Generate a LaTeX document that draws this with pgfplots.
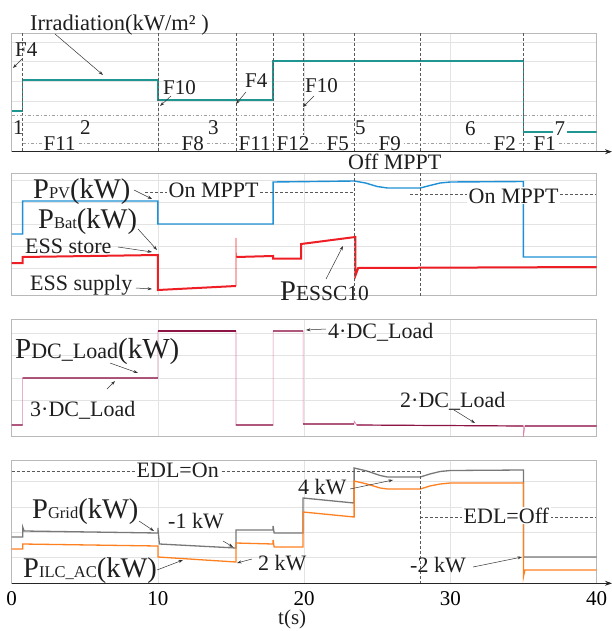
\documentclass[border=0pt]{standalone}
\usepackage{fontspec}
\setmainfont{Liberation Serif}
\usepackage{pgfplots}
\pgfplotsset{compat=1.18}
\usetikzlibrary{arrows.meta}
\newcommand\fz[1]{\fontsize{#1}{#1}\selectfont}
\definecolor{cirr}{RGB}{32,150,146}
\definecolor{cpv}{RGB}{30,144,214}
\definecolor{cbat}{RGB}{238,30,36}
\definecolor{cdc}{RGB}{140,20,70}
\definecolor{cdcl}{RGB}{222,130,170}
\definecolor{cgrid}{RGB}{120,120,120}
\definecolor{cilc}{RGB}{255,128,32}
\pgfplotsset{panel/.style={
  scale only axis, width=584.8pt, xmin=0, xmax=40,
  axis line style={draw=gray!55, line width=0.9pt},
  major tick length=0pt,
  xtick={10,20,30}, xticklabels={}, yticklabels={},
  grid=major, major grid style={gray!22, line width=0.6pt},
  unbounded coords=jump,
}}
\begin{document}
\begin{tikzpicture}
\useasboundingbox (0pt,0pt) rectangle (612pt,-631pt);
% Panel 1: irradiation
\begin{axis}[panel, at={(11.7pt,-33.3pt)}, anchor=north west, height=118.4pt,
  ymin=-151.7, ymax=-33.3, ytick={-42,-61,-81,-101,-122}]
\addplot[cirr, line width=1.6pt] coordinates {(0,-111)(0.75,-111)(0.75,-80)(10,-80)(10,-100)(17.88,-100)(17.88,-61)(35,-61)(35,-132)(40,-132)};
\end{axis}
% Panel 2: PV and battery
\begin{axis}[panel, at={(11.7pt,-173.3pt)}, anchor=north west, height=122.4pt,
  ymin=-295.7, ymax=-173.3, ytick={-180,-202,-224,-246,-268}]
\addplot[cpv, line width=1.4pt] coordinates {(0,-234)(0.75,-234)(0.75,-201)(10,-201)(10,-224)(17.88,-224)(17.88,-182)(23.42,-181)(24.2,-183)(25,-186.5)(25.7,-188)(27.95,-188)(28.6,-185.5)(29.3,-183)(30,-182)(35,-181.5)(35,-257)(40,-257)};
\addplot[cbat, line width=0.6pt] coordinates {(15.34,-286)(15.34,-238)(15.36,-257)};
\addplot[cbat, line width=2pt] coordinates {(0,-263)(0.75,-263)(0.75,-257)(10,-255)(10,-290)(15.34,-286)(15.34,nan)(15.36,-257)(17.88,-256)(17.88,-258.5)(19.8,-258.5)(19.8,-244)(23.5,-237)(23.5,-276)(23.7,-268)(40,-267)};
\end{axis}
% Panel 3: DC load
\begin{axis}[panel, at={(11.7pt,-319.3pt)}, anchor=north west, height=116.7pt,
  ymin=-436, ymax=-319.3, ytick={-333,-355,-378,-400}]
\addplot[cdcl, line width=0.6pt] coordinates {(0,-425)(0.75,-425)(0.75,-378)(10,-378)(10,-331)(15.34,-331)(15.34,-425)(17.88,-425)(17.88,-331)(19.93,-331)(19.93,-424)(23.42,-424)(23.42,-421)(23.6,-425)(35,-426)(35,-437)(35.1,-426)(40,-426)};
\addplot[cdc, line width=1.2pt] coordinates {(0,-425)(0.75,-425)(0.75,nan)(0.75,-378)(10,-378)(10,nan)(15.34,-425)(17.88,-425)(17.88,nan)(17.88,-331)(19.93,-331)(19.93,nan)(19.93,-424)(23.42,-424)(23.42,nan)(23.6,-425)(35,-426)(35,nan)(35.1,-426)(40,-426)};
\addplot[cdc, line width=2.4pt] coordinates {(10,-331)(15.34,-331)};
\end{axis}
% Panel 4: grid and ILC
\begin{axis}[panel, at={(11.7pt,-460.7pt)}, anchor=north west, height=122.6pt,
  ymin=-583.3, ymax=-460.7, ytick={-481,-507,-532,-557},
  xtick={0,10,20,30,40}, xticklabels={0,10,20,30,40},
  xticklabel style={font=\fz{21}, inner sep=0pt, anchor=north, yshift=-8.5pt}]
\addplot[cgrid, line width=1.3pt] coordinates {(0,-537)(0.75,-537)(0.75,-527)(0.85,-531)(10,-533)(10,-528)(10.1,-544)(15.34,-548)(15.34,-530)(17.88,-530)(17.88,-526)(17.95,-533)(19.93,-533)(19.93,-498)(23.42,-503)(23.42,-468)(24.3,-471)(25.2,-475.5)(25.7,-477)(27.95,-477)(28.6,-474)(29.3,-471.5)(30,-470.5)(35,-470)(35,-557)(40,-557)};
\addplot[cilc, line width=1.3pt] coordinates {(0,-549)(0.75,-549)(0.75,-544)(10,-546)(10,-557)(15.34,-562)(15.34,-543)(17.88,-544)(17.88,-540)(17.95,-547)(19.93,-547)(19.93,-512)(23.42,-517)(23.42,-481)(24.3,-484)(25.2,-488)(25.7,-489)(27.95,-489)(28.6,-486)(29.3,-484)(30,-483)(35,-483)(35,-577)(35.1,-570)(40,-570)};
\end{axis}
% Annotations (1pt = 1px of reference, y downward)
\begin{scope}[x=1pt, y=-1pt, every node/.style={inner sep=0pt, text=black!88},
  arr/.style={-{Stealth[length=4.5pt,width=3pt]}, line width=0.5pt, black!80},
  evd/.style={dash pattern=on 3pt off 2pt, gray!70!black, line width=0.5pt},
  dimd/.style={dash pattern=on 3pt off 2pt on 1pt off 2pt, gray!75, line width=0.6pt},
  lbl/.style={fill=white, inner xsep=1.5pt, inner ysep=1pt}]
% axes with arrows
\draw[line width=1pt, black!85, -{Stealth[length=7pt,width=5pt]}] (11.7,151.7) -- (612,151.7);
\draw[line width=1pt, black!85, -{Stealth[length=7pt,width=5pt]}] (11.7,583.3) -- (612,583.3);
% panel 1 event lines
\foreach \t in {0.75,10,15.34,17.88,19.93,23.42,27.95,35}
  \draw[evd] ({11.7+14.62*\t},33.3) -- ({11.7+14.62*\t},151.7);
\draw[dimd] (11.7,115) -- (596.5,115);
\draw[dimd] (22.7,143) -- (596.5,143);
% panel 2 lines
\foreach \t in {23.42,27.95}
  \draw[evd] ({11.7+14.62*\t},173.3) -- ({11.7+14.62*\t},295.7);
\draw[evd] (145,192) -- (354,192);
\draw[evd] (410,194) -- (596,194);
% panel 4 lines
\draw[evd] (11.7,471) -- (420.3,471);
\draw[evd] (420.3,517) -- (596,517);
\draw[evd] (420.3,471) -- (420.3,583.3);
% panel 1 texts
\node[anchor=base west] at (30,31) {\fz{22.5}Irradiation(kW/m² )};
\draw[arr] (55,34) -- (103,75);
\node[anchor=base west] at (15,57) {\fz{21}F4};
\draw[arr] (22,59) -- (13,68);
\node[anchor=base west] at (163,95) {\fz{21}F10};
\draw[arr] (171,96) -- (160,106);
\node[anchor=base west] at (245,88) {\fz{21}F4};
\draw[arr] (246,92) -- (236,104);
\node[anchor=base west] at (305,93) {\fz{21}F10};
\draw[arr] (314,96) -- (303,107);
\node[anchor=base west] at (13,135) {\fz{21}1};
\node[anchor=base west] at (80,135) {\fz{21}2};
\node[anchor=base west] at (208,135) {\fz{21}3};
\node[anchor=base west] at (355,135) {\fz{21}5};
\node[anchor=base west] at (465,136) {\fz{21}6};
\node[anchor=base west, lbl] at (553,136) {\fz{21}7};
\foreach \xx/\tt in {42/F11,180/F8,237/F11,275/F12,325/F5,377/F9,492/F2,532/F1}
  \node[anchor=base west, lbl] at (\xx,150) {\fz{21}\tt};
\node[anchor=base west] at (348,170) {\fz{22}Off MPPT};
% panel 2 texts
\node[anchor=base west] at (33,198) {\fz{28.5}P\fz{16.5}PV\fz{28.5}(kW)};
\draw[arr] (134,190) -- (152,199);
\node[anchor=base west, lbl] at (167,197) {\fz{22}On MPPT};
\node[anchor=base west, lbl] at (467,203) {\fz{22}On MPPT};
\node[anchor=base west] at (38,228) {\fz{28.5}P\fz{16.5}Bat\fz{28.5}(kW)};
\draw[arr] (138,229) -- (157,250);
\node[anchor=base west] at (25,253) {\fz{22}ESS store};
\draw[arr] (118,247) -- (152,252);
\node[anchor=base west] at (30,290) {\fz{22}ESS supply};
\draw[arr] (136,288) -- (152,289);
\node[anchor=base west] at (280,300) {\fz{28.5}P\fz{21.5}ESSC10};
\draw[arr] (326,279) -- (343,246);
% panel 3 texts
\node[anchor=base west] at (15,358) {\fz{29}P\fz{22}DC\_Load\fz{29}(kW)};
\draw[arr] (110,363) -- (138,373);
\node[anchor=base west] at (30,416) {\fz{22}3·DC\_Load};
\draw[arr] (107,389) -- (115,381);
\node[anchor=base west] at (328,338) {\fz{22}4·DC\_Load};
\draw[arr] (326,329) -- (306,330);
\node[anchor=base west] at (400,407) {\fz{22}2·DC\_Load};
\draw[arr] (454,410) -- (475,423);
% panel 4 texts
\node[anchor=base west, lbl] at (135,477) {\fz{22}EDL=On};
\node[anchor=base west] at (32,518) {\fz{28.5}P\fz{16.5}Grid\fz{28.5}(kW)};
\draw[arr] (139,521) -- (154,531);
\node[anchor=base west] at (168,528) {\fz{22}-1 kW};
\draw[arr] (223,541) -- (233,547);
\node[anchor=base west] at (23,577) {\fz{28.5}P\fz{16.5}ILC\_AC\fz{28.5}(kW)};
\draw[arr] (157,570) -- (183,560);
\node[anchor=base west] at (258,570) {\fz{22}2 kW};
\draw[arr] (252,559) -- (237,563);
\node[anchor=base west] at (298,494) {\fz{22}4 kW};
\draw[arr] (350,489) -- (393,480);
\node[anchor=base west, lbl] at (462,523) {\fz{22}EDL=Off};
\node[anchor=base west] at (410,572) {\fz{22}-2 kW};
\draw[arr] (473,567) -- (522,557);
\node[anchor=base west] at (278,624) {\fz{21}t(s)};
\end{scope}
\end{tikzpicture}
\end{document}
